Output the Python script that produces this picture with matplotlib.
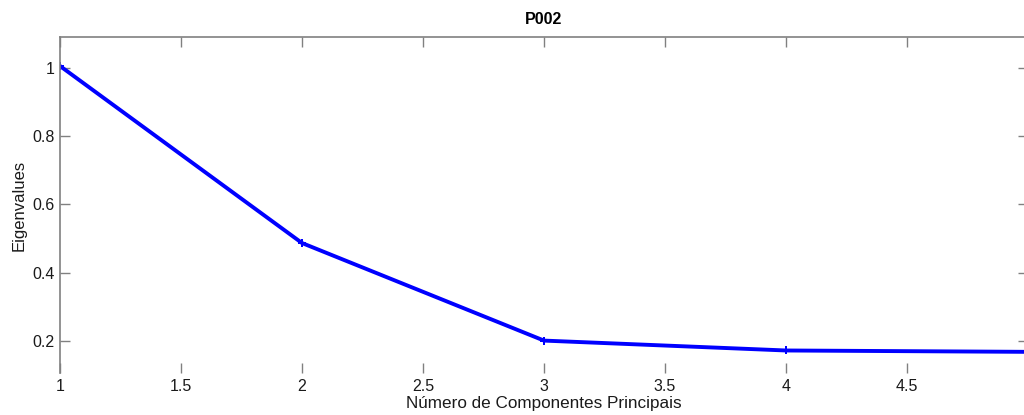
import matplotlib
matplotlib.use("Agg")
import matplotlib.pyplot as plt

components = [1, 2, 3, 4, 5]
eigenvalues = [1.006, 0.487, 0.201, 0.172, 0.168]
xticks = [1, 1.5, 2, 2.5, 3, 3.5, 4, 4.5, 5]
yticks = [0.2, 0.4, 0.6, 0.8, 1.0]
yticklabels = ["0.2", "0.4", "0.6", "0.8", "1"]
xticklabels = ["1", "1.5", "2", "2.5", "3", "3.5", "4", "4.5", "5"]

plt.rcParams['font.family'] = ['Liberation Sans', 'DejaVu Sans']

W, H = 1024, 415
fig = plt.figure(figsize=(W / 100, H / 100), dpi=100)
ax = fig.add_axes([60 / W, (H - 373) / H, (1028 - 60) / W, (373 - 37) / H])

ax.plot(components, eigenvalues, color='#0000ff', linewidth=2.8,
        marker='P', markersize=6, markeredgewidth=0)

ax.set_xlim(1, 5)
ax.set_ylim(0.106, 1.091)
ax.set_xticks(xticks)
ax.set_xticklabels(xticklabels)
ax.set_yticks(yticks)
ax.set_yticklabels(yticklabels)

for s in ['left', 'top', 'right']:
    ax.spines[s].set_color('#808080')
    ax.spines[s].set_linewidth(1.2)
ax.spines['bottom'].set_visible(False)

ax.tick_params(axis='both', direction='in', length=7, width=1, color='#808080',
               labelsize=11.5, labelcolor='#1a1a1a', right=True, top=True)
ax.tick_params(axis='x', pad=4)
ax.tick_params(axis='y', pad=4)

ax.set_xlabel('Número de Componentes Principais', fontsize=12.3, color='#1a1a1a', labelpad=2)
ax.set_ylabel('Eigenvalues', fontsize=12, color='#1a1a1a', labelpad=4)
ax.set_title('P002', fontsize=11.5, fontweight='bold', pad=9)

fig.savefig('out.png', dpi=100)
